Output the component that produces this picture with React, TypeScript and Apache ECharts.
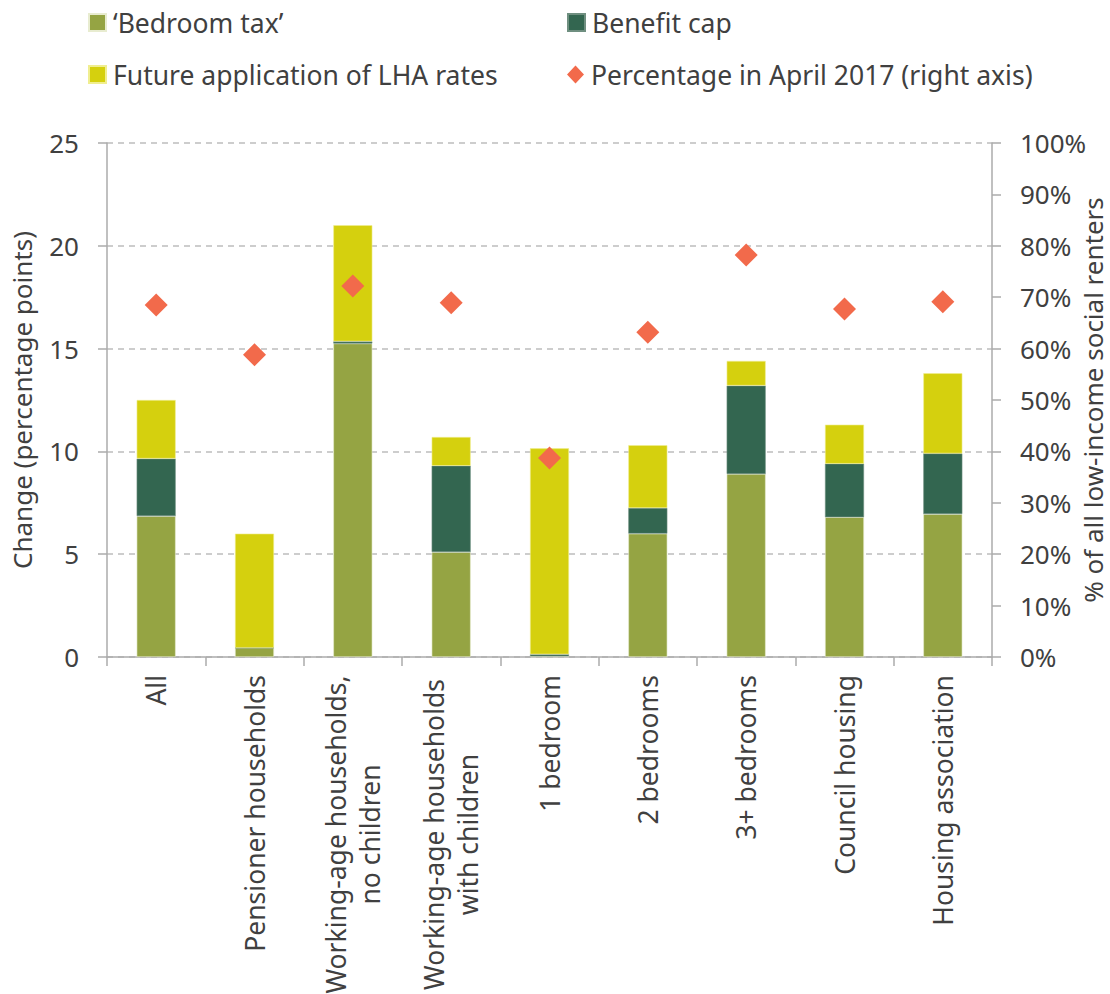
import React, { useEffect, useRef } from "react";
import * as echarts from "echarts";

const categories = [
  "All",
  "Pensioner households",
  "Working-age households,\nno children",
  "Working-age households\nwith children",
  "1 bedroom",
  "2 bedrooms",
  "3+ bedrooms",
  "Council housing",
  "Housing association",
];
const bedroomTax = [6.85, 0.45, 15.25, 5.1, 0.03, 6.0, 8.9, 6.8, 6.95];
const benefitCap = [2.8, 0.0, 0.1, 4.2, 0.1, 1.25, 4.3, 2.6, 2.95];
const lhaRates = [2.85, 5.55, 5.65, 1.4, 10.02, 3.05, 1.2, 1.9, 3.9];
const pctApril2017 = [68.5, 58.8, 72.2, 68.9, 38.7, 63.2, 78.2, 67.7, 69.1];

const leftTicks = { min: 0, max: 25, interval: 5 };
const rightTicks = { min: 0, max: 100, interval: 10 };

const TXT = "#404040";
const AX = "#ababab";
const FONT = "Noto Sans";
const FS = 26;
const XFS = 26.5;

function measure(text: string, size: number): number {
  const c = document.createElement("canvas").getContext("2d");
  if (!c) return text.length * size * 0.55;
  c.font = `${size}px "${FONT}"`;
  return c.measureText(text).width;
}

export default function App() {
  const ref = useRef<HTMLDivElement>(null);
  useEffect(() => {
    document.body.style.margin = "0";
    const chart = echarts.init(ref.current!, null, { renderer: "svg" });
    const legendText = { color: TXT, fontSize: 26.5, fontFamily: FONT, padding: [0, 0, 0, 2] };
    const mkLegend = (name: string, left: number, top: number, icon: string, w: number, h: number) => ({
      data: [name],
      left,
      top,
      padding: 0,
      icon,
      itemWidth: w,
      itemHeight: h,
      textStyle: legendText,
      selectedMode: false,
    });
    const multi = categories.filter((c) => c.includes("\n"));
    let maxW = 0;
    multi.forEach((c) => c.split("\n").forEach((l) => (maxW = Math.max(maxW, measure(l, XFS)))));
    chart.setOption({
      animation: false,
      textStyle: { fontFamily: FONT },
      legend: [
        mkLegend("\u2018Bedroom tax\u2019", 88, 9, "rect", 17, 17),
        mkLegend("Benefit cap", 567, 9, "rect", 17, 17),
        mkLegend("Future application of LHA rates", 88, 61, "rect", 17, 17),
        mkLegend("Percentage in April 2017 (right axis)", 567, 61, "diamond", 17, 18),
      ],
      grid: {
        left: 107,
        right: 118,
        top: 143,
        bottom: 337,
        containLabel: false,
        outerBoundsMode: "none",
      },
      xAxis: {
        type: "category",
        data: categories,
        axisLine: { lineStyle: { color: AX, width: 1.5 } },
        axisTick: { show: true, length: 9, lineStyle: { color: AX, width: 1.5 } },
        axisLabel: {
          rotate: 90,
          interval: 0,
          color: TXT,
          fontSize: XFS,
          lineHeight: 34,
          margin: 18,
          fontFamily: FONT,
          formatter: (v: string) =>
            v.includes("\n") ? v.split("\n").map((l) => `{c|${l}}`).join("\n") : v,
          rich: {
            c: {
              width: Math.ceil(maxW),
              align: "center",
              fontSize: XFS,
              lineHeight: 34,
              color: TXT,
              fontFamily: FONT,
            },
          },
        },
      },
      yAxis: [
        {
          type: "value",
          ...leftTicks,
          name: "Change (percentage points)",
          nameLocation: "middle",
          nameGap: 72,
          nameMoveOverlap: false,
          nameTextStyle: { color: TXT, fontSize: FS, fontFamily: FONT },
          axisLine: { show: true, lineStyle: { color: AX, width: 1.5 } },
          axisTick: { show: true, length: 9, lineStyle: { color: AX, width: 1.5 } },
          axisLabel: { color: TXT, fontSize: FS, margin: 28, fontFamily: FONT },
          splitLine: { show: true, lineStyle: { color: "#bdbdbd", type: [6, 5], width: 1.5 } },
        },
        {
          type: "value",
          ...rightTicks,
          position: "right",
          name: "% of all low-income social renters",
          nameLocation: "middle",
          nameGap: 88,
          nameRotate: 90,
          nameMoveOverlap: false,
          nameTextStyle: { color: TXT, fontSize: FS, fontFamily: FONT, lineHeight: 26 },
          axisLine: { show: true, lineStyle: { color: AX, width: 1.5 } },
          axisTick: { show: true, length: 9, lineStyle: { color: AX, width: 1.5 } },
          axisLabel: { color: TXT, fontSize: FS, margin: 28, fontFamily: FONT, formatter: "{value}%" },
          splitLine: { show: false },
        },
      ],
      series: [
        {
          name: "\u2018Bedroom tax\u2019",
          type: "bar",
          stack: "s",
          data: bedroomTax,
          barWidth: 39,
          itemStyle: { color: "#95a443", borderColor: "#e8ecd0", borderWidth: 0.6 },
        },
        {
          name: "Benefit cap",
          type: "bar",
          stack: "s",
          data: benefitCap,
          barWidth: 39,
          itemStyle: { color: "#336650", borderColor: "#6f8f80", borderWidth: 0.6 },
        },
        {
          name: "Future application of LHA rates",
          type: "bar",
          stack: "s",
          data: lhaRates,
          barWidth: 39,
          itemStyle: { color: "#d5d00e", borderColor: "#f0ee90", borderWidth: 0.6 },
        },
        {
          name: "Percentage in April 2017 (right axis)",
          type: "scatter",
          yAxisIndex: 1,
          data: pctApril2017,
          symbol: "diamond",
          symbolSize: [23, 23],
          itemStyle: { color: "#f26a4b", opacity: 1 },
          z: 5,
        },
      ],
    });
    return () => chart.dispose();
  }, []);
  return <div ref={ref} style={{ width: 1110, height: 994 }} />;
}
